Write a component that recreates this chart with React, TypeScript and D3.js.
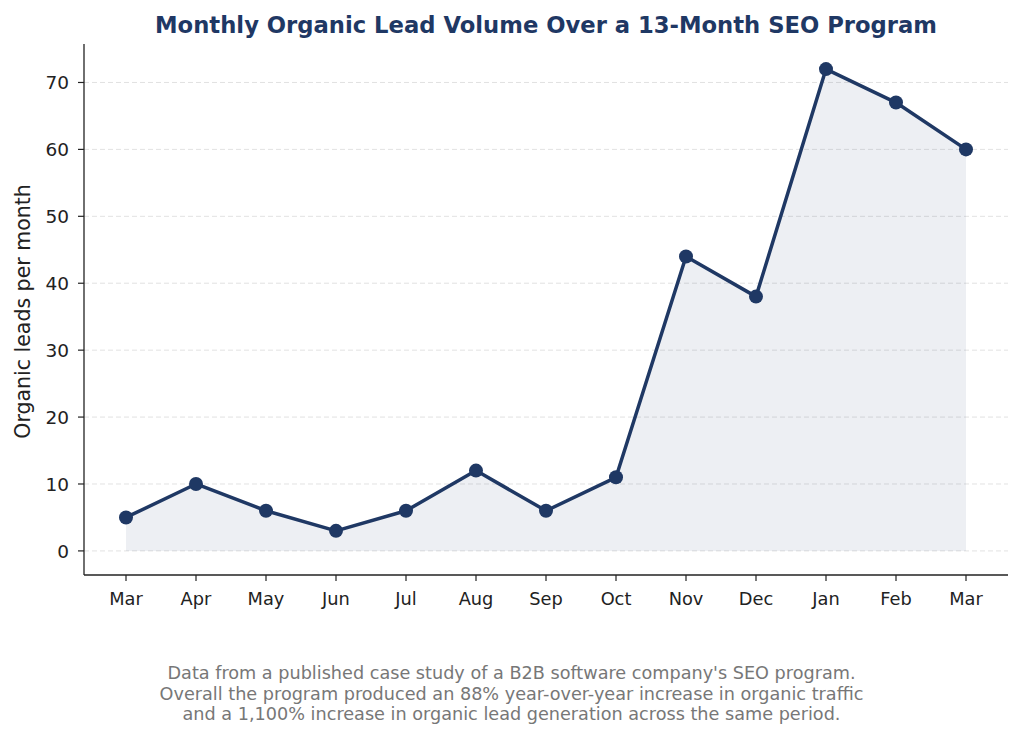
import React from "react";
import * as d3 from "d3";

const months = ["Mar", "Apr", "May", "Jun", "Jul", "Aug", "Sep", "Oct", "Nov", "Dec", "Jan", "Feb", "Mar"];
const leads = [5, 10, 6, 3, 6, 12, 6, 11, 44, 38, 72, 67, 60];
const yTicks = [0, 10, 20, 30, 40, 50, 60, 70];
const footnote = [
  "Data from a published case study of a B2B software company's SEO program.",
  "Overall the program produced an 88% year-over-year increase in organic traffic",
  "and a 1,100% increase in organic lead generation across the same period.",
];

const W = 1024, H = 739;
const left = 84, right = 1008, top = 45, bottom = 575;
const navy = "#1f3864";
const font = "DejaVu Sans, sans-serif";

export default function App() {
  const idx = leads.map((_, i) => i);
  const x = d3.scaleLinear().domain([-0.6, 12.6]).range([left, right]);
  const y = d3.scaleLinear().domain([-3.6, 75.6]).range([bottom, top]);
  const line = d3.line<number>().x((i) => x(i)).y((i) => y(leads[i]));
  const area = d3.area<number>().x((i) => x(i)).y0(() => y(0)).y1((i) => y(leads[i]));
  return (
    <svg width={W} height={H} style={{ position: "absolute", left: 0, top: 0, background: "#fff" }} fontFamily={font}>
      <rect width={W} height={H} fill="#fff" />
      <text x={(left + right) / 2} y={33} textAnchor="middle" fontSize={22.7} fontWeight="bold" fill={navy}>
        Monthly Organic Lead Volume Over a 13-Month SEO Program
      </text>
      {yTicks.map((t) => (
        <line key={"g" + t} x1={left} x2={right} y1={y(t)} y2={y(t)} stroke="#dcdcdc" strokeWidth={1} strokeDasharray="5,3" opacity={0.8} />
      ))}
      <path d={area(idx) || ""} fill="#1f3864" fillOpacity={0.08} />
      <path d={line(idx) || ""} fill="none" stroke={navy} strokeWidth={3.5} strokeLinejoin="round" />
      {idx.map((i) => (
        <circle key={"c" + i} cx={x(i)} cy={y(leads[i])} r={7} fill={navy} />
      ))}
      <line x1={left} x2={left} y1={top - 1} y2={bottom} stroke="#222" strokeWidth={1.3} />
      <line x1={left} x2={right} y1={bottom} y2={bottom} stroke="#222" strokeWidth={1.3} />
      {yTicks.map((t) => (
        <g key={"y" + t}>
          <line x1={left - 6} x2={left} y1={y(t)} y2={y(t)} stroke="#222" strokeWidth={1.2} />
          <text x={left - 15} y={y(t)} dy="0.36em" textAnchor="end" fontSize={18.5} fill="#222">{t}</text>
        </g>
      ))}
      {months.map((m, i) => (
        <g key={"x" + i}>
          <line x1={x(i)} x2={x(i)} y1={bottom} y2={bottom + 6} stroke="#222" strokeWidth={1.2} />
          <text x={x(i)} y={605} textAnchor="middle" fontSize={17.8} fill="#222">{m}</text>
        </g>
      ))}
      <text transform={`translate(30,311.5) rotate(-90)`} textAnchor="middle" fontSize={20.5} fill="#222">
        Organic leads per month
      </text>
      {footnote.map((s, i) => (
        <text key={"f" + i} x={511.5} y={679 + i * 20.5} textAnchor="middle" fontSize={17.65} fill="#777">{s}</text>
      ))}
    </svg>
  );
}
